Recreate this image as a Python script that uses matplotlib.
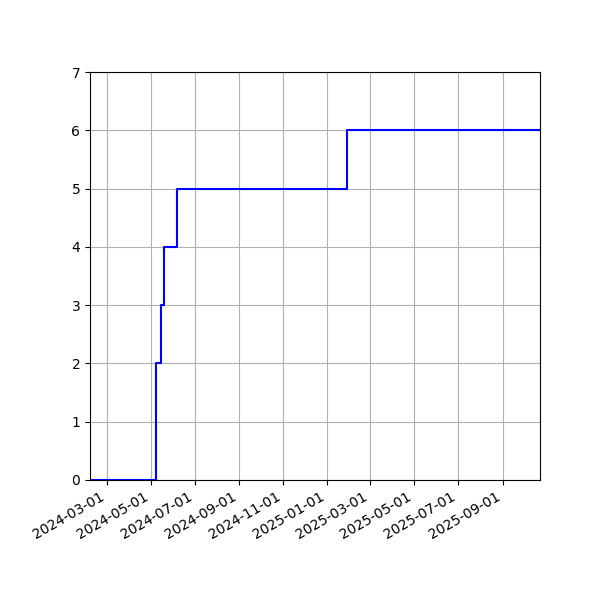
import matplotlib
matplotlib.use("Agg")
import matplotlib.pyplot as plt
import matplotlib.dates as mdates
import numpy as np
import pandas as pd

dates = ["2024-02-07", "2024-05-09", "2024-05-15", "2024-05-20", "2024-06-06", "2025-01-28", "2025-10-23"]
counts = [0, 2, 3, 4, 5, 6, 6]

x = pd.to_datetime(dates)

fig, ax = plt.subplots(figsize=(6, 6), dpi=100)
ax.plot(x, counts, color="blue", drawstyle="steps-post")
ax.set_xlim(x[0], x[-1])
ax.set_ylim(0, 7)
ax.xaxis.set_major_locator(mdates.MonthLocator(bymonth=[1, 3, 5, 7, 9, 11]))
ax.xaxis.set_major_formatter(mdates.DateFormatter("%Y-%m-%d"))
ax.grid(True)
fig.autofmt_xdate()
fig.subplots_adjust(left=0.15, right=0.9, top=0.88, bottom=0.2)
fig.savefig("out.png")
